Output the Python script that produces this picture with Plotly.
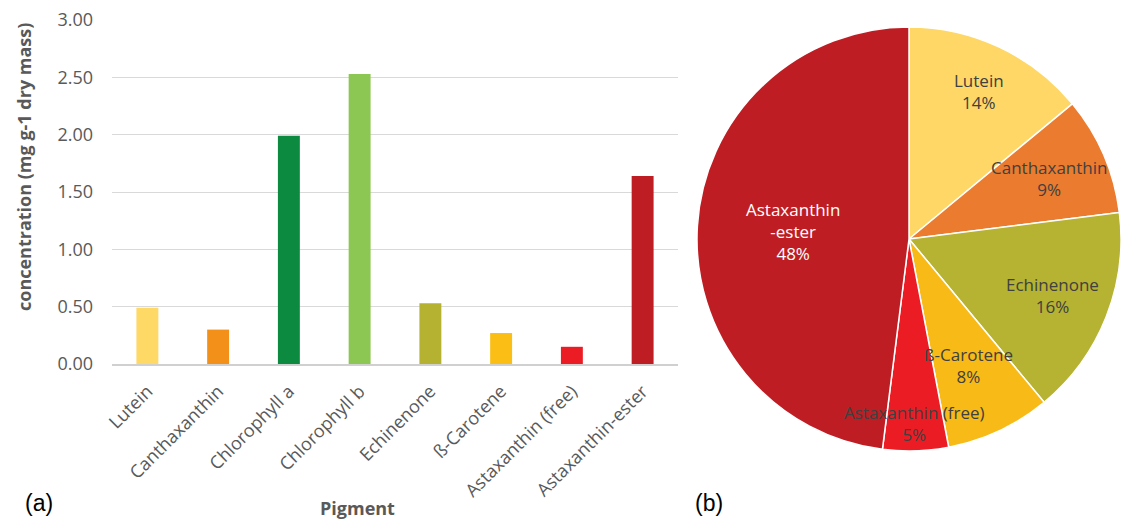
import math
import plotly.graph_objects as go

# ---- data ----
pigments = ["Lutein", "Canthaxanthin", "Chlorophyll a", "Chlorophyll b",
            "Echinenone", "ß-Carotene", "Astaxanthin (free)", "Astaxanthin-ester"]
concentration = [0.49, 0.30, 1.99, 2.53, 0.53, 0.27, 0.15, 1.64]
bar_colors = ["#FFD966", "#F39019", "#0B8A40", "#8DC753",
              "#B5B232", "#FABE14", "#EC1C24", "#BE1E23"]

# pie slices clockwise from 12 o'clock
pie_labels = ["Lutein", "Canthaxanthin", "Echinenone", "ß-Carotene",
              "Astaxanthin (free)", "Astaxanthin<br>-ester"]
pie_percent = [14, 9, 16, 8, 5, 48]
pie_colors = ["#FED766", "#EB7B2E", "#B6B232", "#F8BA16", "#EC1C24", "#BE1E23"]
pie_text_colors = ["#404040", "#404040", "#404040", "#404040", "#404040", "#FFFFFF"]

y_ticks = [0, 0.5, 1.0, 1.5, 2.0, 2.5, 3.0]

W, H = 1121, 519
FONT = "Open Sans"

# pie placement (pixels)
PIE_X0, PIE_X1, PIE_TOP, PIE_BOT = 697, 1121, 27, 451
# label distance from centre, as a fraction of the radius (layout/style)
label_radius_frac = [0.77, 0.72, 0.73, 0.66, 0.87, 0.55]

fig = go.Figure()
fig.add_trace(go.Bar(
    x=pigments, y=concentration,
    marker=dict(color=bar_colors, line=dict(width=0)),
    width=0.31, xaxis="x", yaxis="y", showlegend=False,
))

fig.add_trace(go.Pie(
    labels=pie_labels, values=pie_percent,
    textinfo="none",
    sort=False, direction="clockwise", rotation=0,
    marker=dict(colors=pie_colors, line=dict(color="white", width=1.5)),
    domain=dict(x=[PIE_X0 / W, PIE_X1 / W], y=[1 - PIE_BOT / H, 1 - PIE_TOP / H]),
    showlegend=False, hoverinfo="label+percent",
))

# pie labels placed at each slice's mid-angle
cx = (PIE_X0 + PIE_X1) / 2
cy = (PIE_TOP + PIE_BOT) / 2
R = min(PIE_X1 - PIE_X0, PIE_BOT - PIE_TOP) / 2
total = sum(pie_percent)
pie_annotations = []
cum = 0.0
for lab, val, col, frac in zip(pie_labels, pie_percent, pie_text_colors, label_radius_frac):
    mid = (cum + val / 2) / total * 2 * math.pi
    cum += val
    px = cx + frac * R * math.sin(mid)
    py = cy - frac * R * math.cos(mid)
    pie_annotations.append(dict(
        text=f"{lab}<br>{val}%", x=px / W, y=1 - py / H,
        xref="paper", yref="paper", xanchor="center", yanchor="middle",
        showarrow=False, align="center",
        font=dict(size=17, color=col, family=FONT)))

fig.update_layout(
    width=W, height=H,
    margin=dict(l=0, r=0, t=0, b=0),
    paper_bgcolor="white", plot_bgcolor="white",
    font=dict(family=FONT, color="#595959"),
    xaxis=dict(domain=[112 / W, 678 / W], range=[-0.5, 7.5], tickangle=-45,
               tickfont=dict(size=18, color="#595959", family=FONT),
               showgrid=False, showline=True, linecolor="#D0D0D0", linewidth=1.5,
               ticks="", ticklabelstandoff=8, automargin=False, fixedrange=True),
    yaxis=dict(domain=[1 - 364 / H, 1 - 20 / H], range=[0, 3.0],
               tickvals=y_ticks, tickformat=".2f",
               tickfont=dict(size=18, color="#595959", family=FONT),
               showgrid=True, gridcolor="#D9D9D9", gridwidth=1.2,
               zeroline=False, showline=False, ticks="", ticklabelstandoff=18,
               automargin=False, fixedrange=True),
    annotations=[
        dict(text="<b>concentration (mg g-1 dry mass)</b>", textangle=-90,
             x=24 / W, y=1 - 167 / H, xref="paper", yref="paper",
             xanchor="center", yanchor="middle",
             showarrow=False, font=dict(size=18, color="#595959", family=FONT)),
        dict(text="<b>Pigment</b>", x=357 / W, y=1 - 508 / H,
             xref="paper", yref="paper", xanchor="center", yanchor="middle",
             showarrow=False, font=dict(size=18, color="#595959", family=FONT)),
        dict(text="(a)", x=39 / W, y=1 - 503 / H, xref="paper", yref="paper",
             xanchor="center", yanchor="middle",
             showarrow=False, font=dict(size=23, color="black", family="Liberation Sans")),
        dict(text="(b)", x=709 / W, y=1 - 503 / H, xref="paper", yref="paper",
             xanchor="center", yanchor="middle",
             showarrow=False, font=dict(size=23, color="black", family="Liberation Sans")),
    ] + pie_annotations,
)

fig.write_html("out.html")
